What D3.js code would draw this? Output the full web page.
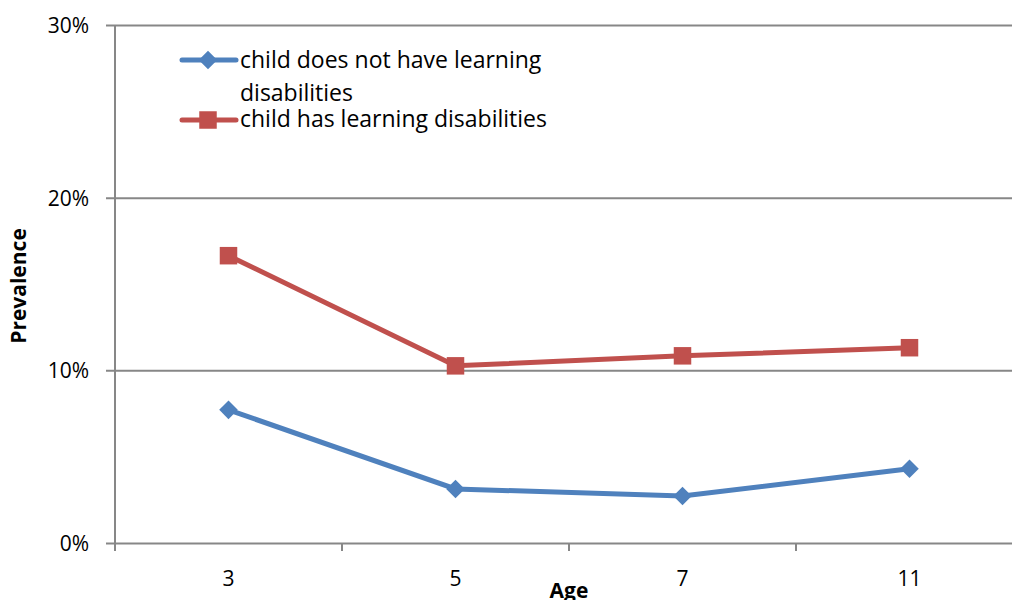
<!DOCTYPE html>
<html lang="en">
<head>
<meta charset="utf-8">
<script src="https://cdn.jsdelivr.net/npm/d3@7"></script>
<style>
body { margin: 0; background: #fff; }
text { font-family: "Open Sans", "Noto Sans", sans-serif; fill: #000; }
</style>
<title>Prevalence by age</title>
</head>
<body>
<script>
var ages = ["3", "5", "7", "11"];
var noLD = [0.0771, 0.0313, 0.0272, 0.0430];
var withLD = [0.1664, 0.1026, 0.1084, 0.1131];
var yTicks = [0, 0.1, 0.2, 0.3];

var w = 1012, h = 600;
var padLeft = 115, padTop = 25, axisY = 543;
var gridCol = "#878787";
var colors = ["#4f81bd", "#c0504d"];

var svg = d3.select("body").append("svg")
  .attr("width", w).attr("height", h);

var xScale = d3.scaleBand().domain(ages).range([padLeft, padLeft + 4 * 227]);
var yScale = d3.scaleLinear().domain([0, 0.3]).range([axisY, padTop]);

// gridlines + y labels
var yAxis = d3.axisLeft(yScale).tickValues(yTicks)
  .tickFormat(d3.format(".0%"))
  .tickSize(-(w - padLeft)).tickPadding(26);
var gy = svg.append("g").attr("transform", "translate(" + padLeft + ",0)").call(yAxis);
gy.select(".domain").remove();
gy.selectAll("line").attr("stroke", gridCol).attr("stroke-width", 2)
  .attr("x1", -9);
gy.selectAll("text").style("font-size", "21px").attr("dy", "0.35em");

// y axis line
svg.append("line").attr("x1", padLeft).attr("x2", padLeft)
  .attr("y1", padTop).attr("y2", axisY + 8)
  .attr("stroke", gridCol).attr("stroke-width", 2);

// x axis ticks at band edges
var edges = ages.map(function(a) { return xScale(a); }).concat([xScale.range()[1]]);
svg.selectAll(".xt").data(edges).enter().append("line")
  .attr("x1", function(d) { return d; }).attr("x2", function(d) { return d; })
  .attr("y1", axisY).attr("y2", axisY + 8)
  .attr("stroke", gridCol).attr("stroke-width", 2);

svg.selectAll(".xl").data(ages).enter().append("text")
  .attr("x", function(d) { return xScale(d) + xScale.bandwidth() / 2; })
  .attr("y", 586)
  .attr("text-anchor", "middle")
  .style("font-size", "21px")
  .text(function(d) { return d; });

svg.append("text").attr("x", 569).attr("y", 598)
  .attr("text-anchor", "middle").style("font-size", "21px").style("font-weight", "bold")
  .text("Age");

svg.append("text").attr("transform", "translate(26,286) rotate(-90)")
  .attr("text-anchor", "middle").style("font-size", "21px").style("font-weight", "bold")
  .text("Prevalence");

var cx = function(d, i) { return xScale(ages[i]) + xScale.bandwidth() / 2; };
var line = d3.line().x(cx).y(function(d) { return yScale(d); });

function marker(k) {
  return d3.symbol().type(k == 0 ? d3.symbolDiamond2 : d3.symbolSquare2).size(k == 0 ? 220 : 390)();
}

[noLD, withLD].forEach(function(vals, k) {
  svg.append("path").datum(vals)
    .attr("d", line).attr("fill", "none")
    .attr("stroke", colors[k]).attr("stroke-width", 5);
  svg.selectAll(".m" + k).data(vals).enter().append("path")
    .attr("d", marker(k))
    .attr("transform", function(d, i) { return "translate(" + cx(d, i) + "," + yScale(d) + ")"; })
    .attr("fill", colors[k]);
});

// legend
var leg = svg.append("g");
var legY = [60, 120];
legY.forEach(function(y, k) {
  leg.append("line").attr("x1", 182).attr("x2", 236).attr("y1", y).attr("y2", y)
    .attr("stroke", colors[k]).attr("stroke-width", 5).attr("stroke-linecap", "round");
  leg.append("path").attr("d", marker(k))
    .attr("transform", "translate(208," + y + ")")
    .attr("fill", colors[k]);
});
leg.append("text").attr("x", 240).attr("y", 68).style("font-size", "23px")
  .text("child does not have learning");
leg.append("text").attr("x", 240).attr("y", 101).style("font-size", "23px")
  .text("disabilities");
leg.append("text").attr("x", 240).attr("y", 127).style("font-size", "23px")
  .text("child has learning disabilities");
</script>
</body>
</html>
